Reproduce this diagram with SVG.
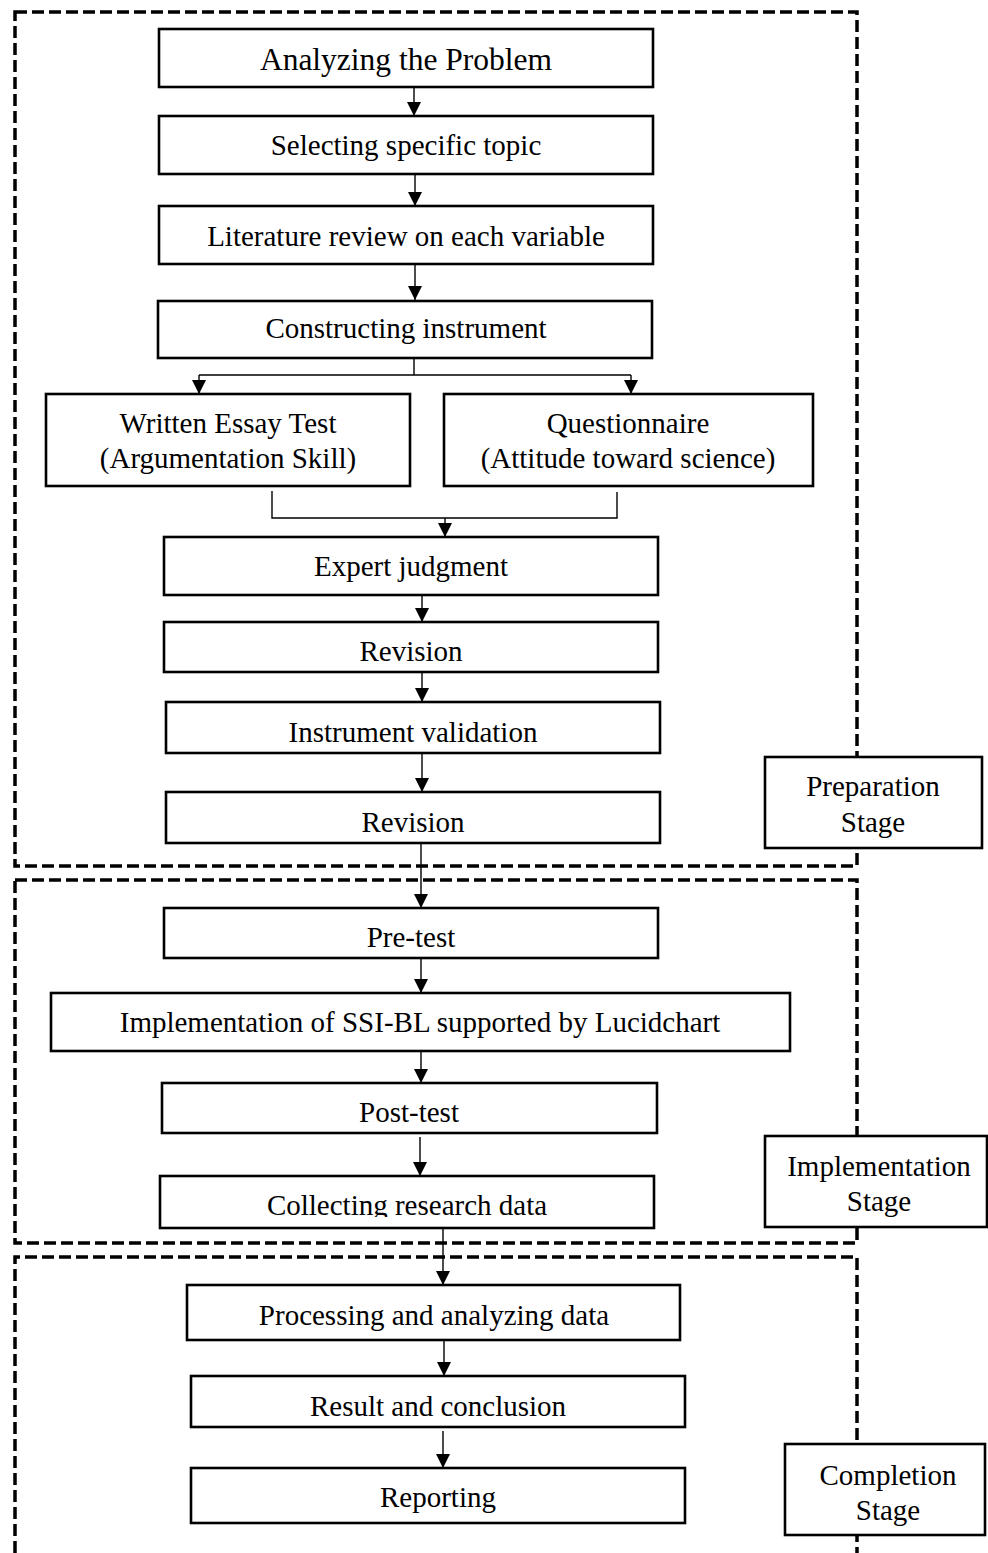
<svg xmlns="http://www.w3.org/2000/svg" width="988" height="1553" viewBox="0 0 988 1553">
<style>
  .box { fill: #ffffff; stroke: #000000; stroke-width: 2.6; }
  .stage { fill: none; stroke: #000000; stroke-width: 3.5; stroke-dasharray: 12 5; }
  .conn { fill: none; stroke: #000000; stroke-width: 1.4; }
  text { font-family: "Liberation Serif", "Times New Roman", serif; font-size: 29px; fill: #000000; text-anchor: middle; }
  .big { font-size: 31.5px; }
</style>
<defs>
  <marker id="arrow" viewBox="0 0 14 14" refX="14" refY="7" markerWidth="15" markerHeight="14" markerUnits="userSpaceOnUse" orient="auto">
    <path d="M0,0 L14,7 L0,14 z" fill="#000000"/>
  </marker>
  <clipPath id="clipCollect">
    <rect x="160" y="1176" width="494" height="41"/>
  </clipPath>
</defs>
<rect width="988" height="1553" fill="#ffffff"/>

<g id="stage-frames">
  <rect class="stage" x="15" y="12" width="842" height="854"/>
  <rect class="stage" x="15" y="880" width="842" height="363"/>
  <path class="stage" d="M15,1553 L15,1257 L857,1257 L857,1553"/>
</g>

<g id="connectors">
  <line class="conn" x1="414" y1="87" x2="414" y2="116" marker-end="url(#arrow)"/>
  <line class="conn" x1="415" y1="174" x2="415" y2="206" marker-end="url(#arrow)"/>
  <line class="conn" x1="415" y1="264" x2="415" y2="300" marker-end="url(#arrow)"/>
  <line class="conn" x1="414" y1="358" x2="414" y2="375"/>
  <line class="conn" x1="199" y1="375" x2="631" y2="375"/>
  <line class="conn" x1="199" y1="375" x2="199" y2="394" marker-end="url(#arrow)"/>
  <line class="conn" x1="631" y1="375" x2="631" y2="394" marker-end="url(#arrow)"/>
  <polyline class="conn" points="272,491 272,518 445,518"/>
  <polyline class="conn" points="617,492 617,518 445,518"/>
  <line class="conn" x1="445" y1="518" x2="445" y2="537" marker-end="url(#arrow)"/>
  <line class="conn" x1="422" y1="595" x2="422" y2="622" marker-end="url(#arrow)"/>
  <line class="conn" x1="422" y1="672" x2="422" y2="702" marker-end="url(#arrow)"/>
  <line class="conn" x1="422" y1="753" x2="422" y2="792" marker-end="url(#arrow)"/>
  <line class="conn" x1="421" y1="843" x2="421" y2="908" marker-end="url(#arrow)"/>
  <line class="conn" x1="421" y1="958" x2="421" y2="993" marker-end="url(#arrow)"/>
  <line class="conn" x1="421" y1="1051" x2="421" y2="1083" marker-end="url(#arrow)"/>
  <line class="conn" x1="420" y1="1137" x2="420" y2="1176" marker-end="url(#arrow)"/>
  <line class="conn" x1="443" y1="1228" x2="443" y2="1285" marker-end="url(#arrow)"/>
  <line class="conn" x1="444" y1="1340" x2="444" y2="1376" marker-end="url(#arrow)"/>
  <line class="conn" x1="443" y1="1431" x2="443" y2="1468" marker-end="url(#arrow)"/>
</g>

<g id="n-analyzing">
  <rect class="box" x="159" y="29" width="494" height="58"/>
  <text class="big" x="406" y="70">Analyzing the Problem</text>
</g>
<g id="n-selecting">
  <rect class="box" x="159" y="116" width="494" height="58"/>
  <text x="406" y="155">Selecting specific topic</text>
</g>
<g id="n-literature">
  <rect class="box" x="159" y="206" width="494" height="58"/>
  <text x="406" y="246">Literature review on each variable</text>
</g>
<g id="n-constructing">
  <rect class="box" x="158" y="301" width="494" height="57"/>
  <text x="406" y="338">Constructing instrument</text>
</g>
<g id="n-essay">
  <rect class="box" x="46" y="394" width="364" height="92"/>
  <text x="228" y="433">Written Essay Test</text>
  <text x="228" y="468">(Argumentation Skill)</text>
</g>
<g id="n-questionnaire">
  <rect class="box" x="444" y="394" width="369" height="92"/>
  <text x="628" y="433">Questionnaire</text>
  <text x="628" y="468">(Attitude toward science)</text>
</g>
<g id="n-expert">
  <rect class="box" x="164" y="537" width="494" height="58"/>
  <text x="411" y="576">Expert judgment</text>
</g>
<g id="n-revision1">
  <rect class="box" x="164" y="622" width="494" height="50"/>
  <text x="411" y="661">Revision</text>
</g>
<g id="n-validation">
  <rect class="box" x="166" y="702" width="494" height="51"/>
  <text x="413" y="742">Instrument validation</text>
</g>
<g id="n-revision2">
  <rect class="box" x="166" y="792" width="494" height="51"/>
  <text x="413" y="832">Revision</text>
</g>
<g id="n-pretest">
  <rect class="box" x="164" y="908" width="494" height="50"/>
  <text x="411" y="947">Pre-test</text>
</g>
<g id="n-implementation">
  <rect class="box" x="51" y="993" width="739" height="58"/>
  <text x="420" y="1032">Implementation of SSI-BL supported by Lucidchart</text>
</g>
<g id="n-posttest">
  <rect class="box" x="162" y="1083" width="495" height="50"/>
  <text x="409" y="1122">Post-test</text>
</g>
<g id="n-collecting">
  <rect class="box" x="160" y="1176" width="494" height="52"/>
  <text x="407" y="1215" clip-path="url(#clipCollect)">Collecting research data</text>
</g>
<g id="n-processing">
  <rect class="box" x="187" y="1285" width="493" height="55"/>
  <text x="434" y="1325">Processing and analyzing data</text>
</g>
<g id="n-result">
  <rect class="box" x="191" y="1376" width="494" height="51"/>
  <text x="438" y="1416">Result and conclusion</text>
</g>
<g id="n-reporting">
  <rect class="box" x="191" y="1468" width="494" height="55"/>
  <text x="438" y="1507">Reporting</text>
</g>

<g id="label-preparation">
  <rect class="box" x="765" y="757" width="217" height="91"/>
  <text x="873" y="796">Preparation</text>
  <text x="873" y="832">Stage</text>
</g>
<g id="label-implementation">
  <rect class="box" x="765" y="1136" width="222" height="91"/>
  <text x="879" y="1176">Implementation</text>
  <text x="879" y="1211">Stage</text>
</g>
<g id="label-completion">
  <rect class="box" x="785" y="1444" width="200" height="91"/>
  <text x="888" y="1485">Completion</text>
  <text x="888" y="1520">Stage</text>
</g>
</svg>
